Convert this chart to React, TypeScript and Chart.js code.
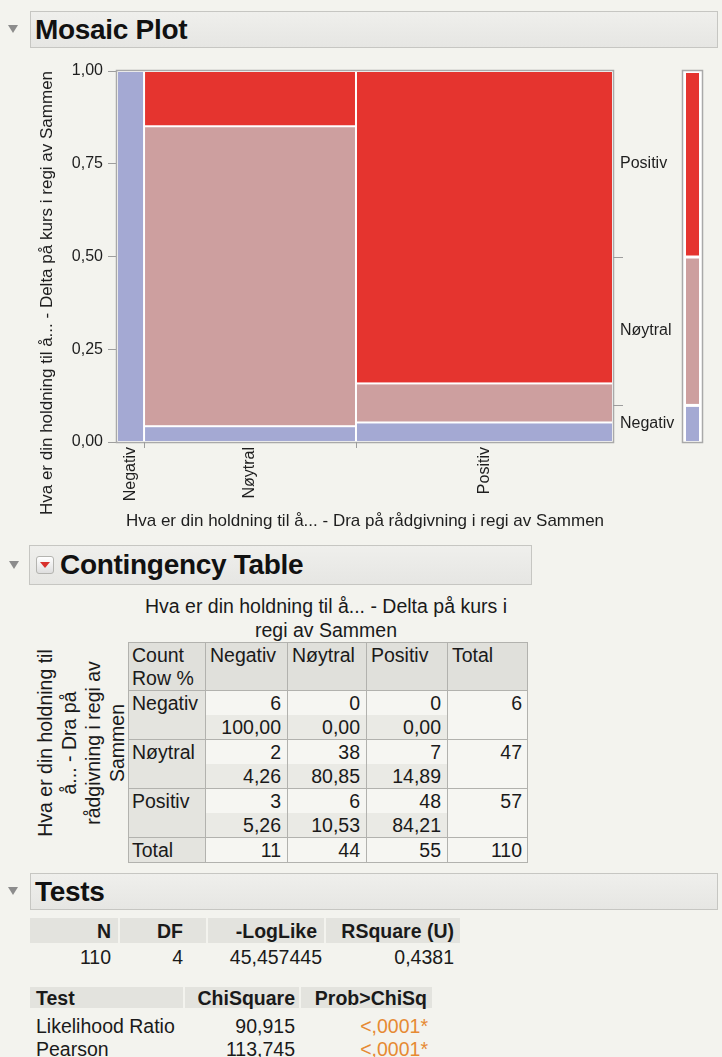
import React, { useEffect, useRef } from 'react';
import { Chart, registerables } from 'chart.js';

Chart.register(...registerables);

const FONT = '"Liberation Sans", Arial, Helvetica, sans-serif';

// ---- data ----
// x factor: "Dra på rådgivning i regi av Sammen" (table rows)
const xCategories = ['Negativ', 'Nøytral', 'Positiv'];
// y factor: "Delta på kurs i regi av Sammen" (table columns)
const yCategories = ['Negativ', 'Nøytral', 'Positiv'];
const countsNegativ = [6, 0, 0];
const countsNoytral = [2, 38, 7];
const countsPositiv = [3, 6, 48];
const rowPctNegativ = ['100,00', '0,00', '0,00'];
const rowPctNoytral = ['4,26', '80,85', '14,89'];
const rowPctPositiv = ['5,26', '10,53', '84,21'];
const yTickValues = [0, 0.25, 0.5, 0.75, 1];

const testsHeader = ['N', 'DF', '-LogLike', 'RSquare (U)'];
const testsValues = ['110', '4', '45,457445', '0,4381'];
const chiHeader = ['Test', 'ChiSquare', 'Prob>ChiSq'];
const chiTests = ['Likelihood Ratio', 'Pearson'];
const chiSquares = ['90,915', '113,745'];
const chiProbs = ['<,0001*', '<,0001*'];

const xTitle = 'Hva er din holdning til å... - Dra på rådgivning i regi av Sammen';
const yTitle = 'Hva er din holdning til å... - Delta på kurs i regi av Sammen';
const tableColTitle = ['Hva er din holdning til å... - Delta på kurs i', 'regi av Sammen'];
const tableRowTitle = ['Hva er din holdning til', 'å... - Dra på', 'rådgivning i regi av', 'Sammen'];

const cellColors = ['#a4a9d3', '#cd9f9f', '#e5342f'];

// ---- derived ----
const countRows = [countsNegativ, countsNoytral, countsPositiv];
const pctRows = [rowPctNegativ, rowPctNoytral, rowPctPositiv];
const sum = (a: number[]) => a.reduce((s, v) => s + v, 0);
const rowTotals = countRows.map(sum);
const grandTotal = sum(rowTotals);
const colTotals = yCategories.map((_, j) => countRows.reduce((s, r) => s + r[j], 0));
const xStarts = rowTotals.map((_, i) => sum(rowTotals.slice(0, i)));
const xCenters = rowTotals.map((t, i) => xStarts[i] + t / 2);
const margProps = colTotals.map((c) => c / grandTotal);
const margStarts = margProps.map((_, i) => sum(margProps.slice(0, i)));
const margCenters = margProps.map((p, i) => margStarts[i] + p / 2);

const mosaicPlugin = {
  id: 'mosaic',
  beforeDatasetsDraw(chart: any) {
    const { ctx, chartArea: a } = chart;
    const x = chart.scales.x;
    const y = chart.scales.y;
    ctx.save();
    ctx.fillStyle = '#ffffff';
    ctx.fillRect(a.left, a.top, a.right - a.left, a.bottom - a.top);
    countRows.forEach((row, i) => {
      const tot = rowTotals[i];
      const x0 = x.getPixelForValue(xStarts[i]);
      const x1 = x.getPixelForValue(xStarts[i] + tot);
      let cy = 0;
      row.forEach((n, j) => {
        const p = n / tot;
        if (n > 0) {
          const y0 = y.getPixelForValue(cy);
          const y1 = y.getPixelForValue(cy + p);
          ctx.fillStyle = cellColors[j];
          ctx.fillRect(x0 + 1, y1 + 1, x1 - x0 - 2, y0 - y1 - 2);
        }
        cy += p;
      });
    });
    ctx.strokeStyle = '#a9a9a9';
    ctx.lineWidth = 1.5;
    ctx.strokeRect(a.left - 0.5, a.top - 0.5, a.right - a.left + 1, a.bottom - a.top + 1);
    // x boundary ticks
    ctx.lineWidth = 1;
    ctx.strokeStyle = '#9d9d9d';
    xStarts.slice(1).forEach((v) => {
      const px = Math.round(x.getPixelForValue(v)) + 0.5;
      ctx.beginPath();
      ctx.moveTo(px, a.bottom);
      ctx.lineTo(px, a.bottom + 6);
      ctx.stroke();
    });
    // right boundary ticks
    margStarts.slice(1).forEach((v) => {
      const py = Math.round(y.getPixelForValue(v)) + 0.5;
      ctx.beginPath();
      ctx.moveTo(a.right, py);
      ctx.lineTo(a.right + 10, py);
      ctx.stroke();
    });
    // marginal bar
    const mx0 = a.right + 69;
    const mx1 = a.right + 90;
    ctx.fillStyle = '#ffffff';
    ctx.fillRect(mx0, a.top, mx1 - mx0, a.bottom - a.top);
    margProps.forEach((p, j) => {
      const y0 = y.getPixelForValue(margStarts[j]);
      const y1 = y.getPixelForValue(margStarts[j] + p);
      ctx.fillStyle = cellColors[j];
      ctx.fillRect(mx0 + 4, y1 + 2, mx1 - mx0 - 8, y0 - y1 - 3);
    });
    ctx.strokeStyle = '#a9a9a9';
    ctx.lineWidth = 1.5;
    ctx.strokeRect(mx0 + 0.5, a.top - 0.5, mx1 - mx0 - 1, a.bottom - a.top + 1);
    ctx.restore();
  },
};

function MosaicChart() {
  const ref = useRef<HTMLCanvasElement | null>(null);
  useEffect(() => {
    if (!ref.current) return;
    const tickFont = { family: FONT, size: 16 };
    const chart = new Chart(ref.current, {
      type: 'scatter',
      data: { datasets: [] },
      options: {
        animation: false,
        responsive: false,
        maintainAspectRatio: false,
        layout: { padding: { top: 21, left: 0, right: 0, bottom: 0 } },
        plugins: { legend: { display: false }, tooltip: { enabled: false } },
        scales: {
          x: {
            type: 'linear',
            position: 'bottom',
            min: 0,
            max: grandTotal,
            afterBuildTicks: (s: any) => {
              s.ticks = xCenters.map((v) => ({ value: v }));
            },
            afterFit: (s: any) => {
              s.height = 98;
            },
            ticks: {
              callback: (_v: any, i: number) => xCategories[i],
              minRotation: 90,
              maxRotation: 90,
              autoSkip: false,
              padding: 5,
              font: tickFont,
              color: '#1e1e1e',
            },
            grid: { display: false, drawTicks: false },
            border: { display: false },
            title: {
              display: true,
              text: xTitle,
              font: { family: FONT, size: 17 },
              color: '#1e1e1e',
              padding: { top: 0, bottom: 8 },
            },
          },
          y: {
            type: 'linear',
            position: 'left',
            min: 0,
            max: 1,
            afterBuildTicks: (s: any) => {
              s.ticks = yTickValues.map((v) => ({ value: v }));
            },
            afterFit: (s: any) => {
              s.width = 117;
            },
            ticks: {
              callback: (v: any) => Number(v).toFixed(2).replace('.', ','),
              padding: 5,
              font: tickFont,
              color: '#1e1e1e',
            },
            grid: { drawOnChartArea: false, drawTicks: true, tickLength: 9, color: '#9d9d9d' },
            border: { display: false },
          },
          y2: {
            type: 'linear',
            position: 'right',
            min: 0,
            max: 1,
            afterBuildTicks: (s: any) => {
              s.ticks = margCenters.map((v) => ({ value: v }));
            },
            afterFit: (s: any) => {
              s.width = 109;
            },
            ticks: {
              callback: (_v: any, i: number) => yCategories[i],
              padding: 7,
              font: tickFont,
              color: '#1e1e1e',
            },
            grid: { display: false, drawTicks: false },
            border: { display: false },
          },
        },
      } as any,
      plugins: [mosaicPlugin],
    });
    return () => chart.destroy();
  }, []);
  return (
    <canvas
      ref={ref}
      width={722}
      height={490}
      style={{ position: 'absolute', left: 0, top: 50, width: 722, height: 490 }}
    />
  );
}

function Triangle({ x, y }: { x: number; y: number }) {
  return (
    <div
      style={{
        position: 'absolute',
        left: x,
        top: y,
        width: 0,
        height: 0,
        borderLeft: '5px solid transparent',
        borderRight: '5px solid transparent',
        borderTop: '8px solid #8c8c8c',
      }}
    />
  );
}

function HeaderBar({ x, y, w, h, textX, title, button }: any) {
  return (
    <>
      <div
        style={{
          position: 'absolute',
          left: x,
          top: y,
          width: w,
          height: h,
          boxSizing: 'border-box',
          background: 'linear-gradient(#efefec, #e6e6e3)',
          border: '1px solid #c6c6c2',
        }}
      />
      {button && (
        <div
          style={{
            position: 'absolute',
            left: 36,
            top: y + 11,
            width: 18,
            height: 18,
            boxSizing: 'border-box',
            border: '1px solid #b4b4b0',
            borderRadius: 3,
            background: 'linear-gradient(#ffffff, #dedede)',
          }}
        >
          <div
            style={{
              position: 'absolute',
              left: 3,
              top: 5,
              width: 0,
              height: 0,
              borderLeft: '5px solid transparent',
              borderRight: '5px solid transparent',
              borderTop: '6px solid #d8302c',
            }}
          />
        </div>
      )}
      <div
        style={{
          position: 'absolute',
          left: textX,
          top: y,
          height: h,
          lineHeight: h + 'px',
          fontSize: 28,
          fontWeight: 'bold',
          color: '#111',
          whiteSpace: 'nowrap',
          letterSpacing: '-0.3px',
        }}
      >
        {title}
      </div>
    </>
  );
}

function Txt({ x, cy, w, align = 'left', bold = false, color = '#1a1a1a', size = 19.5, children }: any) {
  const h = 24;
  return (
    <div
      style={{
        position: 'absolute',
        left: x,
        top: cy - h / 2,
        width: w,
        height: h,
        lineHeight: h + 'px',
        textAlign: align,
        fontWeight: bold ? 'bold' : 'normal',
        fontSize: size,
        color,
        whiteSpace: 'nowrap',
      }}
    >
      {children}
    </div>
  );
}

function Box({ x0, x1, y0, y1, bg, border }: any) {
  return (
    <div
      style={{
        position: 'absolute',
        left: x0,
        top: y0,
        width: x1 - x0 + (border ? 1 : 0),
        height: y1 - y0 + (border ? 1 : 0),
        boxSizing: 'border-box',
        background: bg,
        border: border ? '1px solid ' + border : undefined,
      }}
    />
  );
}

function ContingencyTable() {
  const cols = [128, 205, 287, 366, 447, 527];
  const rows = [642, 690, 739, 788, 837, 862];
  const grid = '#b2b2ae';
  const els: any[] = [];
  for (let r = 0; r < 5; r++) {
    for (let c = 0; c < 5; c++) {
      const isHead = r === 0 || c === 0;
      const bg = r === 0 ? '#e0e0db' : c === 0 ? '#e4e4df' : '#f6f6f2';
      els.push(<Box key={'c' + r + c} x0={cols[c]} x1={cols[c + 1]} y0={rows[r]} y1={rows[r + 1]} bg={bg} border={grid} />);
      if (!isHead && r < 4 && c < 4) {
        els.push(<Box key={'b' + r + c} x0={cols[c] + 1} x1={cols[c + 1]} y0={rows[r] + 25} y1={rows[r + 1]} bg="#eaeae5" />);
      }
    }
  }
  els.push(<Txt key="h0" x={cols[0] + 4} cy={rows[0] + 13} w={80}>Count</Txt>);
  els.push(<Txt key="h1" x={cols[0] + 4} cy={rows[0] + 36} w={80}>Row %</Txt>);
  const colHeads = [...yCategories, 'Total'];
  colHeads.forEach((t, c) => {
    els.push(<Txt key={'ch' + c} x={cols[c + 1] + 5} cy={rows[0] + 13} w={80}>{t}</Txt>);
  });
  xCategories.forEach((t, r) => {
    const top = rows[r + 1];
    els.push(<Txt key={'rl' + r} x={cols[0] + 4} cy={top + 13} w={80}>{t}</Txt>);
    countRows[r].forEach((n, c) => {
      const w = cols[c + 2] - cols[c + 1] - 6;
      els.push(<Txt key={'n' + r + c} x={cols[c + 1]} cy={top + 13} w={w} align="right">{n}</Txt>);
      els.push(<Txt key={'p' + r + c} x={cols[c + 1]} cy={top + 37} w={w} align="right">{pctRows[r][c]}</Txt>);
    });
    els.push(<Txt key={'rt' + r} x={cols[4]} cy={top + 13} w={cols[5] - cols[4] - 5} align="right">{rowTotals[r]}</Txt>);
  });
  els.push(<Txt key="tl" x={cols[0] + 4} cy={rows[4] + 13} w={80}>Total</Txt>);
  [...colTotals, grandTotal].forEach((n, c) => {
    const w = cols[c + 2] - cols[c + 1] - (c === 3 ? 5 : 6);
    els.push(<Txt key={'ct' + c} x={cols[c + 1]} cy={rows[4] + 13} w={w} align="right">{n}</Txt>);
  });
  tableColTitle.forEach((t, i) => {
    els.push(<Txt key={'tt' + i} x={26} cy={606 + i * 24} w={600} align="center">{t}</Txt>);
  });
  els.push(
    <div
      key="rt"
      style={{
        position: 'absolute',
        left: 81 - 120,
        top: 743 - 48,
        width: 240,
        height: 96,
        transform: 'rotate(-90deg)',
        textAlign: 'center',
        fontSize: 19.5,
        lineHeight: '24px',
        color: '#1a1a1a',
        whiteSpace: 'nowrap',
      }}
    >
      {tableRowTitle.map((l, i) => (
        <div key={i}>{l}</div>
      ))}
    </div>
  );
  return <>{els}</>;
}

function Tests() {
  const els: any[] = [];
  const bands1 = [
    [30, 118],
    [120, 206],
    [208, 324],
    [326, 460],
  ];
  const headRight = [111, 183, 317, 454];
  const valRight = [111, 183, 322, 454];
  bands1.forEach(([a, b], i) => {
    els.push(<Box key={'tb' + i} x0={a} x1={b} y0={918} y1={943} bg="#e3e3de" />);
  });
  testsHeader.forEach((t, i) => {
    els.push(<Txt key={'th' + i} x={0} cy={931} w={headRight[i]} align="right" bold>{t}</Txt>);
  });
  testsValues.forEach((t, i) => {
    els.push(<Txt key={'tv' + i} x={0} cy={957} w={valRight[i]} align="right">{t}</Txt>);
  });
  const bands2 = [
    [30, 183],
    [185, 299],
    [301, 432],
  ];
  bands2.forEach(([a, b], i) => {
    els.push(<Box key={'cb' + i} x0={a} x1={b} y0={987} y1={1008} bg="#e3e3de" />);
  });
  els.push(<Txt key="c0" x={36} cy={998} w={140} bold>{chiHeader[0]}</Txt>);
  els.push(<Txt key="c1" x={0} cy={998} w={295} align="right" bold>{chiHeader[1]}</Txt>);
  els.push(<Txt key="c2" x={0} cy={998} w={427} align="right" bold>{chiHeader[2]}</Txt>);
  chiTests.forEach((t, i) => {
    const cy = 1026 + i * 23;
    els.push(<Txt key={'cn' + i} x={36} cy={cy} w={150}>{t}</Txt>);
    els.push(<Txt key={'cs' + i} x={0} cy={cy} w={295} align="right">{chiSquares[i]}</Txt>);
    els.push(<Txt key={'cp' + i} x={0} cy={cy} w={428} align="right" color="#e68a33">{chiProbs[i]}</Txt>);
  });
  return <>{els}</>;
}

export default function App() {
  return (
    <div
      style={{
        position: 'absolute',
        left: 0,
        top: 0,
        width: 722,
        height: 1057,
        overflow: 'hidden',
        background: '#f3f3ee',
        fontFamily: FONT,
      }}
    >
      <Triangle x={8} y={25} />
      <HeaderBar x={30} y={11} w={688} h={37} textX={35} title="Mosaic Plot" />
      <MosaicChart />
      <div
        style={{
          position: 'absolute',
          left: 47 - 250,
          top: 293 - 10,
          width: 500,
          height: 20,
          lineHeight: '20px',
          textAlign: 'center',
          fontSize: 17,
          color: '#1e1e1e',
          transform: 'rotate(-90deg)',
          whiteSpace: 'nowrap',
        }}
      >
        {yTitle}
      </div>
      <Triangle x={9} y={561} />
      <HeaderBar x={29} y={545} w={503} h={40} textX={60} title="Contingency Table" button />
      <ContingencyTable />
      <Triangle x={8} y={887} />
      <HeaderBar x={30} y={873} w={688} h={37} textX={35} title="Tests" />
      <Tests />
    </div>
  );
}
